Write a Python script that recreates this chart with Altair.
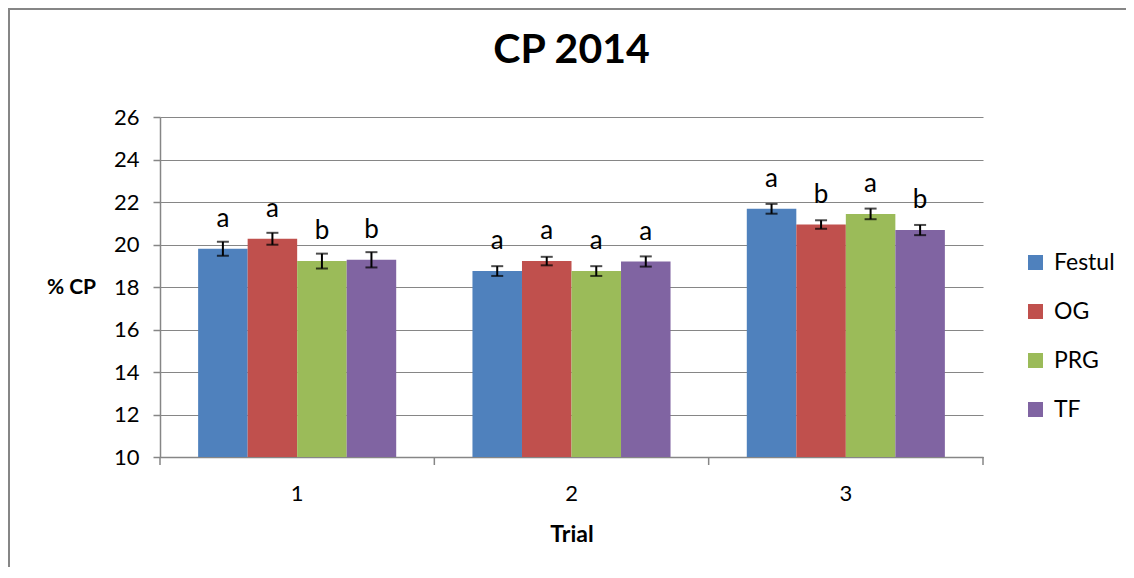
import altair as alt
import pandas as pd

trials = ["1", "2", "3"]
groups = ["Festul", "OG", "PRG", "TF"]
colors = ["#4F81BD", "#C0504D", "#9BBB59", "#8064A2"]
means = [19.8, 20.27, 19.22, 19.28,
         18.75, 19.22, 18.75, 19.2,
         21.68, 20.94, 21.44, 20.68]
errs = [0.33, 0.28, 0.35, 0.36,
        0.23, 0.2, 0.23, 0.24,
        0.23, 0.2, 0.25, 0.24]
letters = ["a", "a", "b", "b",
           "a", "a", "a", "a",
           "a", "b", "a", "b"]
y_ticks = [10, 12, 14, 16, 18, 20, 22, 24, 26]
title_text = "CP 2014"

rows = []
i = 0
for t in trials:
    for g in groups:
        rows.append({"trial": t, "group": g, "mean": means[i],
                     "lo": means[i] - errs[i], "hi": means[i] + errs[i],
                     "letter": letters[i]})
        i += 1
df = pd.DataFrame(rows)
trial_df = pd.DataFrame({"trial": trials})

FONT = "Lato"
GRAY = "#868686"

xscale = alt.Scale(paddingInner=0, paddingOuter=0)
xenc = alt.X("trial:N", sort=trials, scale=xscale,
             axis=alt.Axis(title="Trial", labelAngle=0, labelFontSize=22, labelFont=FONT,
                           labelColor="#000000", labelPadding=26, ticks=False,
                           domainColor=GRAY, domainWidth=1.5, grid=False,
                           titleFontSize=23, titleFont=FONT, titleFontWeight="bold",
                           titlePadding=19, titleColor="#000000"))
xsimple = alt.X("trial:N", sort=trials, scale=xscale)
xoff = alt.XOffset("group:N", sort=groups,
                   scale=alt.Scale(paddingInner=0, paddingOuter=0.77))

yscale = alt.Scale(domain=[10, 26], nice=False, zero=False)

base = alt.Chart(df)

bars = base.mark_bar(strokeWidth=0).encode(
    x=xenc,
    xOffset=xoff,
    y=alt.Y("mean:Q", scale=yscale,
            axis=alt.Axis(title="% CP", values=y_ticks, labelFontSize=22, labelFont=FONT,
                          labelColor="#000000", labelPadding=14, tickSize=7,
                          tickColor=GRAY, domainColor=GRAY, domainWidth=1.5, tickWidth=1.5,
                          gridColor=GRAY, gridWidth=1.2,
                          titleAngle=0, titleFontSize=21, titleFont=FONT,
                          titleFontWeight="bold", titleColor="#000000",
                          titleX=-89, titleY=170, titleAlign="center",
                          titleBaseline="middle")),
    y2=alt.datum(10),
    color=alt.Color("group:N", sort=groups,
                    scale=alt.Scale(domain=groups, range=colors),
                    legend=alt.Legend(title=None, orient="none", legendX=864, legendY=134,
                                      symbolType="square", symbolSize=225,
                                      symbolStrokeWidth=0, labelFontSize=23,
                                      labelFont=FONT, labelColor="#000000",
                                      rowPadding=25, labelOffset=7)),
)

err_rule = base.mark_rule(color="black", strokeWidth=2).encode(
    x=xsimple, xOffset=xoff,
    y=alt.Y("lo:Q", scale=yscale), y2="hi:Q")

err_lo = base.mark_tick(color="black", size=12, thickness=2).encode(
    x=xsimple, xOffset=xoff,
    y=alt.Y("lo:Q", scale=yscale))
err_hi = base.mark_tick(color="black", size=12, thickness=2).encode(
    x=xsimple, xOffset=xoff,
    y=alt.Y("hi:Q", scale=yscale))

labels = base.mark_text(fontSize=26, font=FONT, baseline="alphabetic", dy=-22,
                        color="#000000").encode(
    x=xsimple, xOffset=xoff,
    y=alt.Y("mean:Q", scale=yscale), text="letter:N")

# category boundary ticks (Excel style)
cat_ticks = alt.Chart(trial_df).mark_rule(color=GRAY, strokeWidth=1.5).encode(
    x=alt.X("trial:N", sort=trials, scale=xscale, bandPosition=0),
    y=alt.value(340), y2=alt.value(348))
end_tick = alt.Chart(pd.DataFrame({"k": [0]})).mark_rule(color=GRAY, strokeWidth=1.5).encode(
    x=alt.value(823), y=alt.value(340), y2=alt.value(348))

title_mark = alt.Chart(pd.DataFrame({"t": [title_text]})).mark_text(
    fontSize=41, font=FONT, fontWeight="bold", baseline="alphabetic",
    align="center", color="#000000").encode(
    text="t:N", x=alt.value(411.5), y=alt.value(-54))

frame_left = alt.Chart(pd.DataFrame({"k": [0]})).mark_rule(color=GRAY, strokeWidth=2).encode(
    x=alt.value(-151), y=alt.value(-108), y2=alt.value(460))
frame_top = alt.Chart(pd.DataFrame({"k": [0]})).mark_rule(color=GRAY, strokeWidth=2).encode(
    x=alt.value(-152), x2=alt.value(966), y=alt.value(-108))

chart = alt.layer(bars, err_rule, err_lo, err_hi, labels, cat_ticks, end_tick, title_mark,
                  frame_left, frame_top).properties(
    width=823, height=340,
    background="white",
    autosize=alt.AutoSizeParams(type="none"),
    padding={"left": 152, "top": 109, "right": 143, "bottom": 110},
).configure_view(stroke="transparent", strokeWidth=0)

chart.save("out.html", embed_options={"renderer": "svg", "actions": False})
